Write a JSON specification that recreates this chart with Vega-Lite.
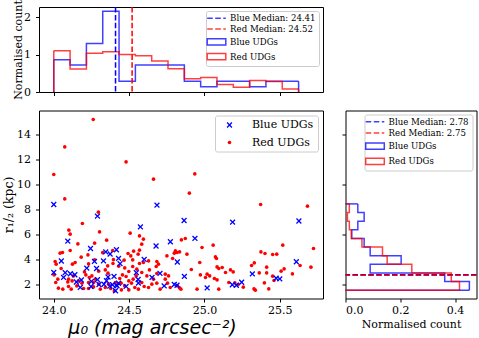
{
  "$schema": "https://vega.github.io/schema/vega-lite/v6.json",
  "background": "white",
  "padding": {"left": 2, "top": -1, "right": 0, "bottom": 0},
  "datasets": {
    "th": [
      {"g": "Blue UDGs", "lo": 24.0, "hi": 24.1083, "d": 0.865},
      {"g": "Blue UDGs", "lo": 24.1083, "hi": 24.2167, "d": 0.721},
      {"g": "Blue UDGs", "lo": 24.2167, "hi": 24.325, "d": 1.298},
      {"g": "Blue UDGs", "lo": 24.325, "hi": 24.4333, "d": 2.163},
      {"g": "Blue UDGs", "lo": 24.4333, "hi": 24.5417, "d": 0.288},
      {"g": "Blue UDGs", "lo": 24.5417, "hi": 24.65, "d": 0.721},
      {"g": "Blue UDGs", "lo": 24.65, "hi": 24.7583, "d": 0.721},
      {"g": "Blue UDGs", "lo": 24.7583, "hi": 24.8667, "d": 0.721},
      {"g": "Blue UDGs", "lo": 24.8667, "hi": 24.975, "d": 0.288},
      {"g": "Blue UDGs", "lo": 24.975, "hi": 25.0833, "d": 0.144},
      {"g": "Blue UDGs", "lo": 25.0833, "hi": 25.1917, "d": 0.288},
      {"g": "Blue UDGs", "lo": 25.1917, "hi": 25.3, "d": 0.288},
      {"g": "Blue UDGs", "lo": 25.3, "hi": 25.4083, "d": 0.144},
      {"g": "Blue UDGs", "lo": 25.4083, "hi": 25.5167, "d": 0.288},
      {"g": "Blue UDGs", "lo": 25.5167, "hi": 25.625, "d": 0.288},
      {"g": "Red UDGs", "lo": 24.0, "hi": 24.1083, "d": 1.106},
      {"g": "Red UDGs", "lo": 24.1083, "hi": 24.2167, "d": 0.617},
      {"g": "Red UDGs", "lo": 24.2167, "hi": 24.325, "d": 1.04},
      {"g": "Red UDGs", "lo": 24.325, "hi": 24.4333, "d": 1.08},
      {"g": "Red UDGs", "lo": 24.4333, "hi": 24.5417, "d": 1.005},
      {"g": "Red UDGs", "lo": 24.5417, "hi": 24.65, "d": 0.97},
      {"g": "Red UDGs", "lo": 24.65, "hi": 24.7583, "d": 0.834},
      {"g": "Red UDGs", "lo": 24.7583, "hi": 24.8667, "d": 0.625},
      {"g": "Red UDGs", "lo": 24.8667, "hi": 24.975, "d": 0.353},
      {"g": "Red UDGs", "lo": 24.975, "hi": 25.0833, "d": 0.39},
      {"g": "Red UDGs", "lo": 25.0833, "hi": 25.1917, "d": 0.2},
      {"g": "Red UDGs", "lo": 25.1917, "hi": 25.3, "d": 0.128},
      {"g": "Red UDGs", "lo": 25.3, "hi": 25.4083, "d": 0.31},
      {"g": "Red UDGs", "lo": 25.4083, "hi": 25.5167, "d": 0.28},
      {"g": "Red UDGs", "lo": 25.5167, "hi": 25.625, "d": 0.08}
    ],
    "tm": [
      {"g": "Blue Median: 24.41", "v": 24.41},
      {"g": "Red Median: 24.52", "v": 24.52}
    ],
    "rh": [
      {"g": "Blue UDGs", "lo": 1.54, "hi": 2.231, "d": 0.452},
      {"g": "Blue UDGs", "lo": 2.231, "hi": 2.922, "d": 0.362},
      {"g": "Blue UDGs", "lo": 2.922, "hi": 3.613, "d": 0.09},
      {"g": "Blue UDGs", "lo": 3.613, "hi": 4.304, "d": 0.203},
      {"g": "Blue UDGs", "lo": 4.304, "hi": 4.995, "d": 0.09},
      {"g": "Blue UDGs", "lo": 4.995, "hi": 5.686, "d": 0.068},
      {"g": "Blue UDGs", "lo": 5.686, "hi": 6.377, "d": 0.023},
      {"g": "Blue UDGs", "lo": 6.377, "hi": 7.068, "d": 0.045},
      {"g": "Blue UDGs", "lo": 7.068, "hi": 7.759, "d": 0.068},
      {"g": "Blue UDGs", "lo": 7.759, "hi": 8.45, "d": 0.045},
      {"g": "Red UDGs", "lo": 1.54, "hi": 2.231, "d": 0.416},
      {"g": "Red UDGs", "lo": 2.231, "hi": 2.922, "d": 0.386},
      {"g": "Red UDGs", "lo": 2.922, "hi": 3.613, "d": 0.242},
      {"g": "Red UDGs", "lo": 3.613, "hi": 4.304, "d": 0.152},
      {"g": "Red UDGs", "lo": 4.304, "hi": 4.995, "d": 0.135},
      {"g": "Red UDGs", "lo": 4.995, "hi": 5.686, "d": 0.06},
      {"g": "Red UDGs", "lo": 5.686, "hi": 6.377, "d": 0.021},
      {"g": "Red UDGs", "lo": 6.377, "hi": 7.068, "d": 0.014},
      {"g": "Red UDGs", "lo": 7.068, "hi": 7.759, "d": 0.007},
      {"g": "Red UDGs", "lo": 7.759, "hi": 8.45, "d": 0.014}
    ],
    "rm": [
      {"g": "Blue Median: 2.78", "v": 2.78},
      {"g": "Red Median: 2.75", "v": 2.75}
    ],
    "sc": [
      {"g": "Red UDGs", "mu": 24.262, "r": 15.2},
      {"g": "Red UDGs", "mu": 24.073, "r": 13.01},
      {"g": "Red UDGs", "mu": 24.0, "r": 10.8},
      {"g": "Red UDGs", "mu": 24.48, "r": 11.81},
      {"g": "Red UDGs", "mu": 24.662, "r": 10.43},
      {"g": "Red UDGs", "mu": 24.936, "r": 10.85},
      {"g": "Red UDGs", "mu": 24.073, "r": 8.85},
      {"g": "Red UDGs", "mu": 24.9, "r": 9.31},
      {"g": "Red UDGs", "mu": 24.296, "r": 7.79},
      {"g": "Red UDGs", "mu": 25.373, "r": 8.4},
      {"g": "Red UDGs", "mu": 25.684, "r": 8.27},
      {"g": "Red UDGs", "mu": 24.19, "r": 6.88},
      {"g": "Red UDGs", "mu": 24.1, "r": 6.35},
      {"g": "Red UDGs", "mu": 24.109, "r": 6.03},
      {"g": "Red UDGs", "mu": 24.304, "r": 6.21},
      {"g": "Red UDGs", "mu": 24.507, "r": 6.11},
      {"g": "Red UDGs", "mu": 24.351, "r": 5.55},
      {"g": "Red UDGs", "mu": 24.16, "r": 5.25},
      {"g": "Red UDGs", "mu": 24.271, "r": 5.31},
      {"g": "Red UDGs", "mu": 24.109, "r": 4.72},
      {"g": "Red UDGs", "mu": 24.042, "r": 4.51},
      {"g": "Red UDGs", "mu": 24.058, "r": 4.56},
      {"g": "Red UDGs", "mu": 24.182, "r": 4.19},
      {"g": "Red UDGs", "mu": 24.227, "r": 4.37},
      {"g": "Red UDGs", "mu": 24.325, "r": 4.55},
      {"g": "Red UDGs", "mu": 24.391, "r": 4.72},
      {"g": "Red UDGs", "mu": 24.493, "r": 4.48},
      {"g": "Red UDGs", "mu": 24.511, "r": 4.29},
      {"g": "Red UDGs", "mu": 24.53, "r": 4.67},
      {"g": "Red UDGs", "mu": 24.56, "r": 4.43},
      {"g": "Red UDGs", "mu": 24.271, "r": 3.97},
      {"g": "Red UDGs", "mu": 24.396, "r": 3.99},
      {"g": "Red UDGs", "mu": 24.467, "r": 3.95},
      {"g": "Red UDGs", "mu": 24.524, "r": 3.97},
      {"g": "Red UDGs", "mu": 24.009, "r": 3.84},
      {"g": "Red UDGs", "mu": 24.016, "r": 3.63},
      {"g": "Red UDGs", "mu": 24.124, "r": 3.63},
      {"g": "Red UDGs", "mu": 24.142, "r": 3.76},
      {"g": "Red UDGs", "mu": 24.231, "r": 3.65},
      {"g": "Red UDGs", "mu": 24.358, "r": 3.49},
      {"g": "Red UDGs", "mu": 24.393, "r": 3.68},
      {"g": "Red UDGs", "mu": 24.431, "r": 3.47},
      {"g": "Red UDGs", "mu": 24.471, "r": 3.33},
      {"g": "Red UDGs", "mu": 24.524, "r": 3.44},
      {"g": "Red UDGs", "mu": 24.551, "r": 3.23},
      {"g": "Red UDGs", "mu": 24.049, "r": 3.28},
      {"g": "Red UDGs", "mu": 24.298, "r": 3.07},
      {"g": "Red UDGs", "mu": 24.342, "r": 3.17},
      {"g": "Red UDGs", "mu": 24.498, "r": 3.04},
      {"g": "Red UDGs", "mu": 24.36, "r": 2.91},
      {"g": "Red UDGs", "mu": 24.456, "r": 2.77},
      {"g": "Red UDGs", "mu": 24.48, "r": 2.64},
      {"g": "Red UDGs", "mu": 24.002, "r": 2.77},
      {"g": "Red UDGs", "mu": 24.013, "r": 2.16},
      {"g": "Red UDGs", "mu": 24.027, "r": 2.43},
      {"g": "Red UDGs", "mu": 24.098, "r": 2.43},
      {"g": "Red UDGs", "mu": 24.131, "r": 2.69},
      {"g": "Red UDGs", "mu": 24.204, "r": 3.01},
      {"g": "Red UDGs", "mu": 24.213, "r": 2.77},
      {"g": "Red UDGs", "mu": 24.236, "r": 2.56},
      {"g": "Red UDGs", "mu": 24.253, "r": 2.69},
      {"g": "Red UDGs", "mu": 24.276, "r": 2.43},
      {"g": "Red UDGs", "mu": 24.093, "r": 2.21},
      {"g": "Red UDGs", "mu": 24.122, "r": 2.29},
      {"g": "Red UDGs", "mu": 24.164, "r": 2.29},
      {"g": "Red UDGs", "mu": 24.187, "r": 2.11},
      {"g": "Red UDGs", "mu": 24.231, "r": 2.16},
      {"g": "Red UDGs", "mu": 24.264, "r": 2.16},
      {"g": "Red UDGs", "mu": 24.298, "r": 2.03},
      {"g": "Red UDGs", "mu": 24.031, "r": 1.71},
      {"g": "Red UDGs", "mu": 24.06, "r": 1.63},
      {"g": "Red UDGs", "mu": 24.098, "r": 1.84},
      {"g": "Red UDGs", "mu": 24.116, "r": 1.63},
      {"g": "Red UDGs", "mu": 24.153, "r": 1.89},
      {"g": "Red UDGs", "mu": 24.198, "r": 1.68},
      {"g": "Red UDGs", "mu": 24.231, "r": 1.68},
      {"g": "Red UDGs", "mu": 24.264, "r": 1.81},
      {"g": "Red UDGs", "mu": 24.309, "r": 1.63},
      {"g": "Red UDGs", "mu": 24.342, "r": 1.76},
      {"g": "Red UDGs", "mu": 24.364, "r": 2.03},
      {"g": "Red UDGs", "mu": 24.409, "r": 2.16},
      {"g": "Red UDGs", "mu": 24.438, "r": 2.48},
      {"g": "Red UDGs", "mu": 24.447, "r": 2.11},
      {"g": "Red UDGs", "mu": 24.471, "r": 1.89},
      {"g": "Red UDGs", "mu": 24.498, "r": 2.29},
      {"g": "Red UDGs", "mu": 24.516, "r": 2.11},
      {"g": "Red UDGs", "mu": 24.538, "r": 1.76},
      {"g": "Red UDGs", "mu": 24.378, "r": 1.68},
      {"g": "Red UDGs", "mu": 24.402, "r": 1.49},
      {"g": "Red UDGs", "mu": 24.449, "r": 1.57},
      {"g": "Red UDGs", "mu": 24.498, "r": 1.57},
      {"g": "Red UDGs", "mu": 24.527, "r": 2.43},
      {"g": "Red UDGs", "mu": 24.547, "r": 2.69},
      {"g": "Red UDGs", "mu": 24.569, "r": 5.89},
      {"g": "Red UDGs", "mu": 24.595, "r": 5.63},
      {"g": "Red UDGs", "mu": 24.584, "r": 5.23},
      {"g": "Red UDGs", "mu": 24.847, "r": 5.57},
      {"g": "Red UDGs", "mu": 24.873, "r": 5.68},
      {"g": "Red UDGs", "mu": 24.984, "r": 4.96},
      {"g": "Red UDGs", "mu": 25.058, "r": 5.15},
      {"g": "Red UDGs", "mu": 24.807, "r": 4.69},
      {"g": "Red UDGs", "mu": 24.818, "r": 4.56},
      {"g": "Red UDGs", "mu": 24.835, "r": 4.61},
      {"g": "Red UDGs", "mu": 24.8, "r": 4.51},
      {"g": "Red UDGs", "mu": 24.884, "r": 4.43},
      {"g": "Red UDGs", "mu": 25.073, "r": 4.21},
      {"g": "Red UDGs", "mu": 25.08, "r": 4.08},
      {"g": "Red UDGs", "mu": 24.569, "r": 4.75},
      {"g": "Red UDGs", "mu": 24.629, "r": 3.89},
      {"g": "Red UDGs", "mu": 24.595, "r": 3.76},
      {"g": "Red UDGs", "mu": 24.569, "r": 3.68},
      {"g": "Red UDGs", "mu": 24.684, "r": 3.84},
      {"g": "Red UDGs", "mu": 24.695, "r": 3.63},
      {"g": "Red UDGs", "mu": 24.68, "r": 3.44},
      {"g": "Red UDGs", "mu": 24.751, "r": 4.29},
      {"g": "Red UDGs", "mu": 24.789, "r": 4.08},
      {"g": "Red UDGs", "mu": 24.969, "r": 3.76},
      {"g": "Red UDGs", "mu": 25.084, "r": 3.41},
      {"g": "Red UDGs", "mu": 25.095, "r": 3.28},
      {"g": "Red UDGs", "mu": 25.118, "r": 3.36},
      {"g": "Red UDGs", "mu": 24.913, "r": 3.2},
      {"g": "Red UDGs", "mu": 25.173, "r": 3.17},
      {"g": "Red UDGs", "mu": 25.191, "r": 3.01},
      {"g": "Red UDGs", "mu": 24.635, "r": 3.17},
      {"g": "Red UDGs", "mu": 24.584, "r": 2.96},
      {"g": "Red UDGs", "mu": 24.618, "r": 2.69},
      {"g": "Red UDGs", "mu": 24.662, "r": 2.43},
      {"g": "Red UDGs", "mu": 24.684, "r": 2.88},
      {"g": "Red UDGs", "mu": 24.74, "r": 2.83},
      {"g": "Red UDGs", "mu": 24.762, "r": 2.69},
      {"g": "Red UDGs", "mu": 24.74, "r": 2.43},
      {"g": "Red UDGs", "mu": 24.755, "r": 2.11},
      {"g": "Red UDGs", "mu": 24.973, "r": 2.77},
      {"g": "Red UDGs", "mu": 25.018, "r": 2.83},
      {"g": "Red UDGs", "mu": 25.035, "r": 2.69},
      {"g": "Red UDGs", "mu": 25.007, "r": 2.56},
      {"g": "Red UDGs", "mu": 25.066, "r": 2.48},
      {"g": "Red UDGs", "mu": 25.084, "r": 2.37},
      {"g": "Red UDGs", "mu": 25.14, "r": 2.96},
      {"g": "Red UDGs", "mu": 24.584, "r": 2.16},
      {"g": "Red UDGs", "mu": 24.6, "r": 1.84},
      {"g": "Red UDGs", "mu": 24.629, "r": 1.76},
      {"g": "Red UDGs", "mu": 24.651, "r": 2.03},
      {"g": "Red UDGs", "mu": 24.684, "r": 2.11},
      {"g": "Red UDGs", "mu": 24.706, "r": 1.63},
      {"g": "Red UDGs", "mu": 24.773, "r": 1.76},
      {"g": "Red UDGs", "mu": 24.822, "r": 1.89},
      {"g": "Red UDGs", "mu": 24.835, "r": 1.73},
      {"g": "Red UDGs", "mu": 24.844, "r": 1.63},
      {"g": "Red UDGs", "mu": 24.951, "r": 1.63},
      {"g": "Red UDGs", "mu": 25.095, "r": 1.63},
      {"g": "Red UDGs", "mu": 25.162, "r": 2.16},
      {"g": "Red UDGs", "mu": 24.562, "r": 1.63},
      {"g": "Red UDGs", "mu": 25.52, "r": 5.15},
      {"g": "Red UDGs", "mu": 25.724, "r": 4.88},
      {"g": "Red UDGs", "mu": 25.375, "r": 4.61},
      {"g": "Red UDGs", "mu": 25.402, "r": 4.48},
      {"g": "Red UDGs", "mu": 25.453, "r": 4.4},
      {"g": "Red UDGs", "mu": 25.48, "r": 4.43},
      {"g": "Red UDGs", "mu": 25.331, "r": 3.73},
      {"g": "Red UDGs", "mu": 25.313, "r": 3.52},
      {"g": "Red UDGs", "mu": 25.413, "r": 3.39},
      {"g": "Red UDGs", "mu": 25.529, "r": 3.25},
      {"g": "Red UDGs", "mu": 25.509, "r": 3.07},
      {"g": "Red UDGs", "mu": 25.707, "r": 3.39},
      {"g": "Red UDGs", "mu": 25.635, "r": 3.52},
      {"g": "Red UDGs", "mu": 25.584, "r": 2.85},
      {"g": "Red UDGs", "mu": 25.364, "r": 2.93},
      {"g": "Red UDGs", "mu": 25.413, "r": 2.93},
      {"g": "Red UDGs", "mu": 25.453, "r": 2.67},
      {"g": "Red UDGs", "mu": 25.462, "r": 2.32},
      {"g": "Red UDGs", "mu": 25.398, "r": 2.13},
      {"g": "Red UDGs", "mu": 25.202, "r": 2.13},
      {"g": "Red UDGs", "mu": 25.224, "r": 2.0},
      {"g": "Red UDGs", "mu": 25.258, "r": 1.79},
      {"g": "Red UDGs", "mu": 25.329, "r": 1.65},
      {"g": "Red UDGs", "mu": 25.338, "r": 1.55},
      {"g": "Red UDGs", "mu": 25.427, "r": 1.65},
      {"g": "Blue UDGs", "mu": 24.0, "r": 8.4},
      {"g": "Blue UDGs", "mu": 24.685, "r": 8.35},
      {"g": "Blue UDGs", "mu": 24.29, "r": 7.47},
      {"g": "Blue UDGs", "mu": 24.865, "r": 7.12},
      {"g": "Blue UDGs", "mu": 25.187, "r": 6.99},
      {"g": "Blue UDGs", "mu": 25.627, "r": 7.08},
      {"g": "Blue UDGs", "mu": 24.575, "r": 6.61},
      {"g": "Blue UDGs", "mu": 24.937, "r": 5.69},
      {"g": "Blue UDGs", "mu": 24.093, "r": 5.47},
      {"g": "Blue UDGs", "mu": 24.774, "r": 5.42},
      {"g": "Blue UDGs", "mu": 24.679, "r": 5.08},
      {"g": "Blue UDGs", "mu": 24.244, "r": 4.88},
      {"g": "Blue UDGs", "mu": 24.416, "r": 4.78},
      {"g": "Blue UDGs", "mu": 24.345, "r": 4.61},
      {"g": "Blue UDGs", "mu": 24.374, "r": 4.44},
      {"g": "Blue UDGs", "mu": 24.05, "r": 3.88},
      {"g": "Blue UDGs", "mu": 24.33, "r": 3.89},
      {"g": "Blue UDGs", "mu": 24.27, "r": 3.85},
      {"g": "Blue UDGs", "mu": 24.6, "r": 4.01},
      {"g": "Blue UDGs", "mu": 24.43, "r": 4.09},
      {"g": "Blue UDGs", "mu": 24.44, "r": 3.67},
      {"g": "Blue UDGs", "mu": 24.82, "r": 3.8},
      {"g": "Blue UDGs", "mu": 25.61, "r": 3.82},
      {"g": "Blue UDGs", "mu": 24.0, "r": 2.96},
      {"g": "Blue UDGs", "mu": 24.076, "r": 2.95},
      {"g": "Blue UDGs", "mu": 24.219, "r": 3.31},
      {"g": "Blue UDGs", "mu": 24.284, "r": 3.28},
      {"g": "Blue UDGs", "mu": 24.14, "r": 2.78},
      {"g": "Blue UDGs", "mu": 24.705, "r": 2.89},
      {"g": "Blue UDGs", "mu": 24.867, "r": 2.65},
      {"g": "Blue UDGs", "mu": 25.318, "r": 2.85},
      {"g": "Blue UDGs", "mu": 24.548, "r": 2.95},
      {"g": "Blue UDGs", "mu": 24.065, "r": 2.57},
      {"g": "Blue UDGs", "mu": 24.11, "r": 2.86},
      {"g": "Blue UDGs", "mu": 24.4, "r": 2.65},
      {"g": "Blue UDGs", "mu": 24.29, "r": 2.39},
      {"g": "Blue UDGs", "mu": 24.183, "r": 2.36},
      {"g": "Blue UDGs", "mu": 24.652, "r": 2.57},
      {"g": "Blue UDGs", "mu": 24.562, "r": 2.12},
      {"g": "Blue UDGs", "mu": 24.333, "r": 2.02},
      {"g": "Blue UDGs", "mu": 24.415, "r": 1.95},
      {"g": "Blue UDGs", "mu": 24.372, "r": 1.87},
      {"g": "Blue UDGs", "mu": 24.48, "r": 1.85},
      {"g": "Blue UDGs", "mu": 24.176, "r": 1.77},
      {"g": "Blue UDGs", "mu": 24.247, "r": 1.84},
      {"g": "Blue UDGs", "mu": 24.41, "r": 1.5},
      {"g": "Blue UDGs", "mu": 24.818, "r": 1.94},
      {"g": "Blue UDGs", "mu": 24.733, "r": 1.89},
      {"g": "Blue UDGs", "mu": 25.018, "r": 1.73},
      {"g": "Blue UDGs", "mu": 25.185, "r": 1.98},
      {"g": "Blue UDGs", "mu": 25.212, "r": 1.94},
      {"g": "Blue UDGs", "mu": 25.247, "r": 2.18},
      {"g": "Blue UDGs", "mu": 25.476, "r": 2.5},
      {"g": "Blue UDGs", "mu": 25.5, "r": 2.45},
      {"g": "Blue UDGs", "mu": 24.42, "r": 1.89},
      {"g": "Blue UDGs", "mu": 24.35, "r": 2.3},
      {"g": "Blue UDGs", "mu": 24.39, "r": 1.98},
      {"g": "Blue UDGs", "mu": 24.36, "r": 2.6},
      {"g": "Blue UDGs", "mu": 24.43, "r": 2.1},
      {"g": "Blue UDGs", "mu": 24.3, "r": 2.0},
      {"g": "Blue UDGs", "mu": 24.25, "r": 2.25},
      {"g": "Blue UDGs", "mu": 24.15, "r": 2.2},
      {"g": "Blue UDGs", "mu": 24.56, "r": 2.4},
      {"g": "Blue UDGs", "mu": 24.8, "r": 2.0}
    ]
  },
  "spacing": 9.5,
  "resolve": {"scale": {"color": "independent", "shape": "independent", "x": "independent", "y": "independent"}, "legend": {"color": "independent", "shape": "independent"}},
  "vconcat": [
    {
      "width": 284,
      "height": 85,
      "layer": [
        {
          "data": {"name": "th"},
          "transform": [
            {"fold": ["lo", "hi"], "as": ["edge", "xv"]},
            {"window": [{"op": "row_number", "as": "k"}], "groupby": ["g"], "sort": [{"field": "xv", "order": "ascending"}, {"field": "edge", "order": "ascending"}]}
          ],
          "mark": {"type": "line", "strokeWidth": 1.5, "opacity": 0.75},
          "encoding": {
            "x": {"field": "xv", "type": "quantitative", "scale": {"domain": [23.902, 25.787], "nice": false, "zero": false},
                  "axis": {"values": [24.0, 24.5, 25.0, 25.5], "labels": false, "title": null}},
            "y": {"field": "d", "type": "quantitative", "scale": {"domain": [0, 2.28], "nice": false},
                  "axis": {"values": [0, 1, 2], "title": "Normalised count", "titlePadding": 0}},
            "color": {"field": "g", "type": "nominal",
                      "scale": {"domain": ["Blue Median: 24.41", "Red Median: 24.52", "Blue UDGs", "Red UDGs"], "range": ["#0000ff", "#ff0000", "#0000ff", "#ff0000"]},
                      "legend": {"title": null, "orient": "top-right", "offset": 4, "padding": 3, "rowPadding": 1.8,
                                 "labelFontSize": 8.6, "symbolSize": 38.4, "symbolStrokeWidth": 1.5, "symbolFillColor": "transparent", "symbolOffset": -3, "labelOffset": 15.5,
                                 "symbolType": {"expr": "indexof(datum.value, 'Median') >= 0 ? 'M-1,0H0.8M1.6,0H3.4M4.2,0H5' : 'M-1,-1H5V1H-1Z'"}}},
            "order": {"field": "k", "type": "quantitative"}
          }
        },
        {
          "data": {"name": "th"},
          "transform": [
            {"joinaggregate": [{"op": "min", "field": "lo", "as": "mn"}], "groupby": ["g"]},
            {"filter": "datum.lo == datum.mn"}
          ],
          "mark": {"type": "rule", "strokeWidth": 1.5, "opacity": 0.75},
          "encoding": {
            "x": {"field": "lo", "type": "quantitative"},
            "y": {"field": "d", "type": "quantitative"},
            "y2": {"datum": 0},
            "color": {"field": "g", "type": "nominal"}
          }
        },
        {
          "data": {"name": "th"},
          "transform": [
            {"joinaggregate": [{"op": "max", "field": "hi", "as": "mx"}], "groupby": ["g"]},
            {"filter": "datum.hi == datum.mx"}
          ],
          "mark": {"type": "rule", "strokeWidth": 1.5, "opacity": 0.75},
          "encoding": {
            "x": {"field": "hi", "type": "quantitative"},
            "y": {"field": "d", "type": "quantitative"},
            "y2": {"datum": 0},
            "color": {"field": "g", "type": "nominal"}
          }
        },
        {
          "data": {"name": "tm"},
          "mark": {"type": "rule", "strokeWidth": 1.5, "strokeDash": [5.5, 2.4]},
          "encoding": {
            "x": {"field": "v", "type": "quantitative"},
            "color": {"field": "g", "type": "nominal"}
          }
        }
      ]
    },
    {
      "spacing": 16.5,
      "resolve": {"scale": {"color": "independent", "shape": "independent", "x": "independent", "y": "independent"}, "legend": {"color": "independent", "shape": "independent"}},
      "hconcat": [
        {
          "width": 284,
          "height": 188,
          "data": {"name": "sc"},
          "mark": {"type": "point", "filled": true, "size": 13, "opacity": 1},
          "encoding": {
            "x": {"field": "mu", "type": "quantitative", "scale": {"domain": [23.902, 25.787], "nice": false, "zero": false},
                  "axis": {"values": [24.0, 24.5, 25.0, 25.5], "format": ".1f", "title": "μ₀ (mag arcsec⁻²)",
                           "titleFont": "DejaVu Sans", "titleFontStyle": "italic", "titleFontSize": 19, "titleX": 113, "titleY": 35, "titleBaseline": "alphabetic", "titleAlign": "center"}},
            "y": {"field": "r", "type": "quantitative", "scale": {"domain": [0.88, 15.92], "nice": false, "zero": false},
                  "axis": {"values": [2, 4, 6, 8, 10, 12, 14], "title": "r₁/₂ (kpc)", "titleFontSize": 12.5, "titlePadding": 1}},
            "color": {"field": "g", "type": "nominal",
                      "scale": {"domain": ["Blue UDGs", "Red UDGs"], "range": ["#0000ff", "#ff0000"]},
                      "legend": {"title": null, "orient": "top-right", "offset": 5, "padding": 4, "rowPadding": 5.5, "labelFontSize": 11, "symbolSize": 13, "symbolOffset": 5, "labelOffset": 17}},
            "shape": {"field": "g", "type": "nominal",
                      "scale": {"domain": ["Blue UDGs", "Red UDGs"], "range": ["M-1.6,-1.1L-1.1,-1.6L0,-0.5L1.1,-1.6L1.6,-1.1L0.5,0L1.6,1.1L1.1,1.6L0,0.5L-1.1,1.6L-1.6,1.1L-0.5,0Z", "circle"]},
                      "legend": {"title": null, "orient": "top-right", "offset": 5, "padding": 4, "rowPadding": 5.5, "labelFontSize": 11, "symbolSize": 13, "symbolOffset": 5, "labelOffset": 17}}
          }
        },
        {
          "width": 131,
          "height": 188,
          "layer": [
            {
              "data": {"name": "rh"},
              "transform": [
                {"fold": ["lo", "hi"], "as": ["edge", "yv"]},
                {"window": [{"op": "row_number", "as": "k"}], "groupby": ["g"], "sort": [{"field": "yv", "order": "ascending"}, {"field": "edge", "order": "ascending"}]}
              ],
              "mark": {"type": "line", "strokeWidth": 1.5, "opacity": 0.75},
              "encoding": {
                "y": {"field": "yv", "type": "quantitative", "scale": {"domain": [0.88, 15.92], "nice": false, "zero": false},
                      "axis": {"values": [2, 4, 6, 8, 10, 12, 14], "labels": false, "title": null}},
                "x": {"field": "d", "type": "quantitative", "scale": {"domain": [0, 0.478], "nice": false},
                      "axis": {"values": [0, 0.2, 0.4], "format": ".1f", "title": "Normalised count", "titlePadding": 3}},
                "color": {"field": "g", "type": "nominal",
                          "scale": {"domain": ["Blue Median: 2.78", "Red Median: 2.75", "Blue UDGs", "Red UDGs"], "range": ["#0000ff", "#ff0000", "#0000ff", "#ff0000"]},
                          "legend": {"title": null, "orient": "top-right", "offset": 4, "padding": 3, "rowPadding": 2.2,
                                     "labelFontSize": 8.6, "symbolSize": 38.4, "symbolStrokeWidth": 1.5, "symbolFillColor": "transparent", "symbolOffset": -3, "labelOffset": 15.5,
                                     "symbolType": {"expr": "indexof(datum.value, 'Median') >= 0 ? 'M-1,0H0.8M1.6,0H3.4M4.2,0H5' : 'M-1,-1H5V1H-1Z'"}}},
                "order": {"field": "k", "type": "quantitative"}
              }
            },
            {
              "data": {"name": "rh"},
              "transform": [
                {"joinaggregate": [{"op": "min", "field": "lo", "as": "mn"}], "groupby": ["g"]},
                {"filter": "datum.lo == datum.mn"}
              ],
              "mark": {"type": "rule", "strokeWidth": 1.5, "opacity": 0.75},
              "encoding": {
                "y": {"field": "lo", "type": "quantitative"},
                "x": {"field": "d", "type": "quantitative"},
                "x2": {"datum": 0},
                "color": {"field": "g", "type": "nominal"}
              }
            },
            {
              "data": {"name": "rh"},
              "transform": [
                {"joinaggregate": [{"op": "max", "field": "hi", "as": "mx"}], "groupby": ["g"]},
                {"filter": "datum.hi == datum.mx"}
              ],
              "mark": {"type": "rule", "strokeWidth": 1.5, "opacity": 0.75},
              "encoding": {
                "y": {"field": "hi", "type": "quantitative"},
                "x": {"field": "d", "type": "quantitative"},
                "x2": {"datum": 0},
                "color": {"field": "g", "type": "nominal"}
              }
            },
            {
              "data": {"name": "rm"},
              "mark": {"type": "rule", "strokeWidth": 1.5, "strokeDash": [5.5, 2.4]},
              "encoding": {
                "y": {"field": "v", "type": "quantitative"},
                "color": {"field": "g", "type": "nominal"}
              }
            }
          ]
        }
      ]
    }
  ],
  "config": {
    "font": "DejaVu Serif",
    "view": {"stroke": "#000000", "strokeWidth": 1},
    "axis": {"grid": false, "domain": false, "tickColor": "#000000", "tickSize": 3.5, "tickWidth": 1, "minExtent": 0,
             "labelFont": "DejaVu Serif", "labelFontSize": 11, "labelColor": "#000000", "labelPadding": 2.5,
             "titleFont": "DejaVu Serif", "titleFontSize": 11, "titleFontWeight": "normal", "titleColor": "#000000", "titlePadding": 6},
    "axisY": {"minExtent": 0, "labelPadding": 5},
    "axisX": {"minExtent": 0, "labelPadding": 2.5},
    "legend": {"labelFont": "DejaVu Serif", "labelColor": "#000000", "strokeColor": "#cccccc", "fillColor": "rgba(255,255,255,0.8)", "cornerRadius": 2}
  }
}
